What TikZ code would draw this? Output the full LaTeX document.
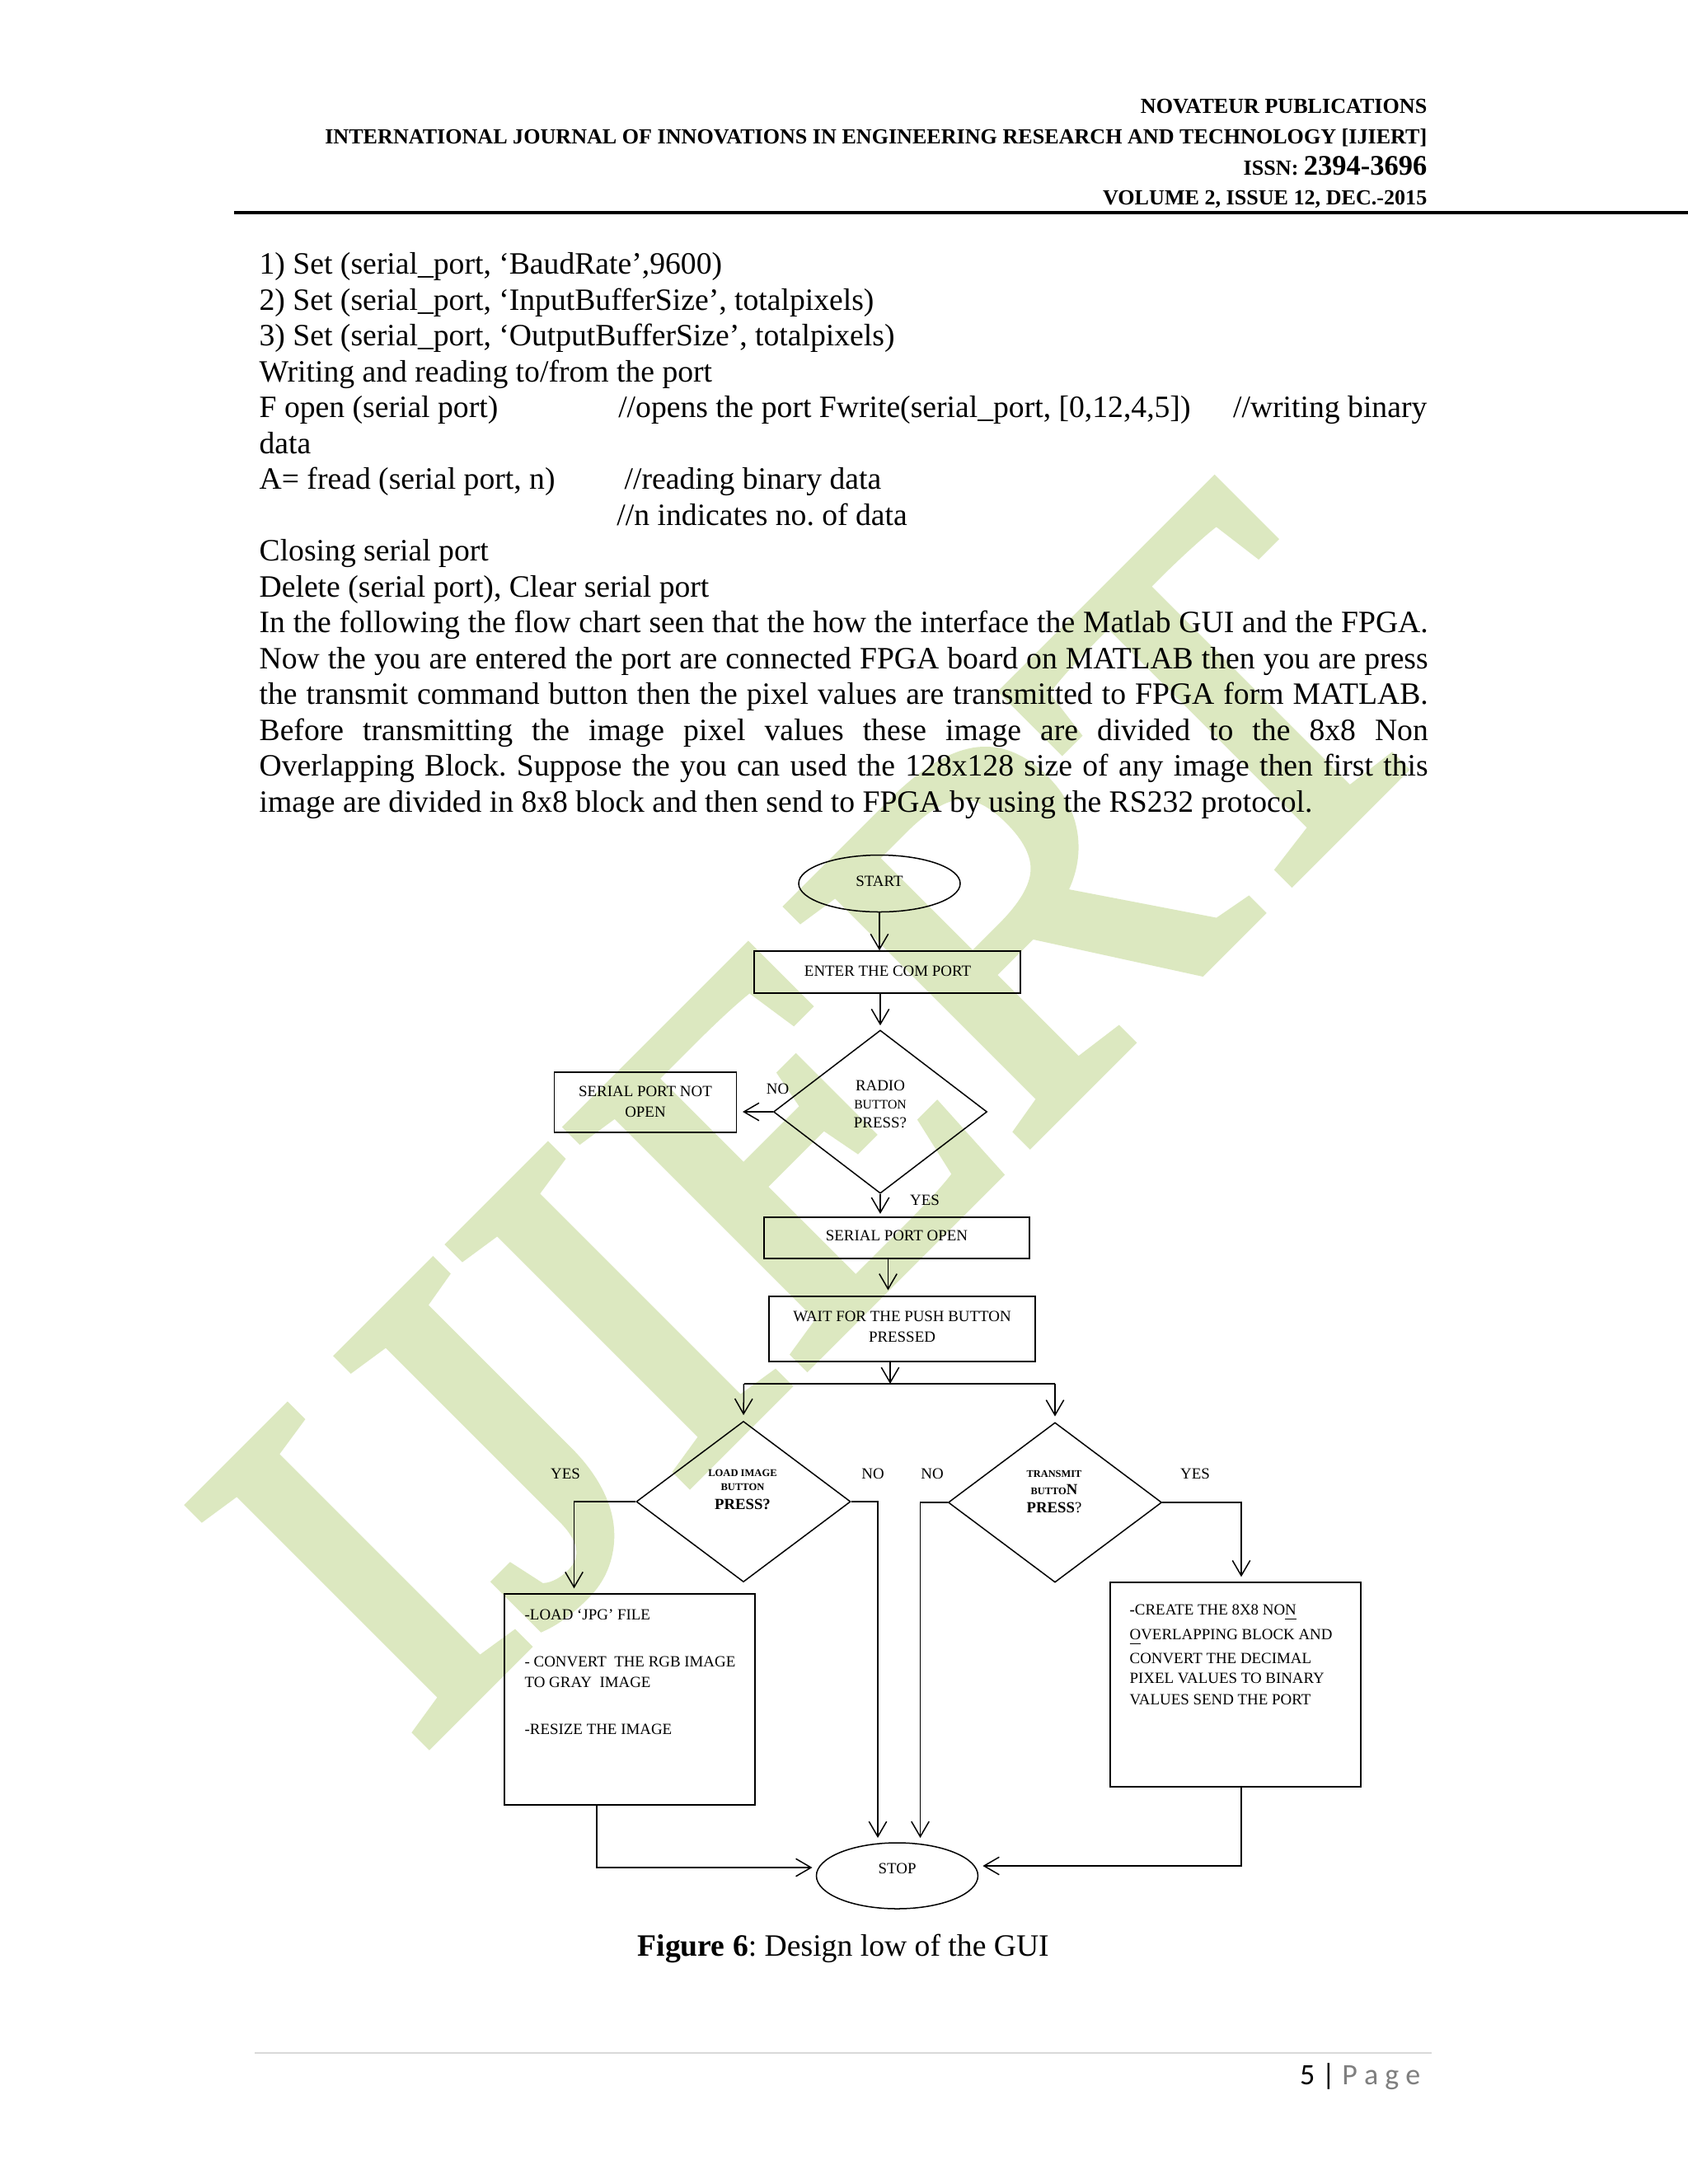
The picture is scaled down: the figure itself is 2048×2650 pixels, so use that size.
\documentclass[tikz,border=0pt]{standalone}
\usepackage{fontspec}
\setmainfont{Liberation Serif}
\newfontfamily\pagefont{Carlito}
\newfontfamily\wmfont[FakeBold=2.5]{Liberation Serif}
\usetikzlibrary{shapes.geometric, arrows.meta, calc}
\newcommand\fsz[2]{\fontsize{#1}{#2}\selectfont}
\newcommand\pxu{0.29883pt}
\definecolor{wmgreen}{RGB}{220,232,192}
\definecolor{pagegray}{RGB}{127,127,127}
\definecolor{rulegray}{RGB}{217,217,217}
\frenchspacing
\begin{document}
\begin{tikzpicture}[x=0.29883pt, y=-0.29883pt,
  body/.style={anchor=base west, inner sep=0, font=\fsz{11.25}{13}},
  hdr/.style={anchor=base east, inner sep=0, font=\fsz{7.8}{9}\bfseries},
  fc/.style={inner sep=0, font=\fsz{5.65}{7.5}},
  fcl/.style={inner sep=0, anchor=west, font=\fsz{5.65}{7.5}},
  box/.style={draw, rectangle, inner sep=0, line width=0.5pt},
  dia/.style={draw, diamond, inner sep=0, line width=0.45pt},
  ell/.style={draw, ellipse, inner sep=0, line width=0.45pt},
  arr/.style={-{Straight Barb[length=5.5pt, width=6.4pt]}, line width=0.45pt},
  ln/.style={line width=0.45pt},
]
\useasboundingbox (0,0) rectangle (2048,2650);
\fill[white] (0,0) rectangle (2048,2650);

% watermark
\node[rotate=45, text=wmgreen, inner sep=0, text depth=0pt, font=\wmfont\fsz{185}{185}] (wm) at (993,1354) {IJIERT};

% header
\node[hdr] (h1) at (1732,137.3) {NOVATEUR PUBLICATIONS};
\node[hdr] (h2) at (1732,174) {INTERNATIONAL JOURNAL OF INNOVATIONS IN ENGINEERING RESEARCH AND TECHNOLOGY [IJIERT]};
\node[hdr] (h3) at (1732,212.3) {ISSN: {\fsz{10.3}{12}2394-3696}};
\node[hdr] (h4) at (1732,248) {VOLUME 2, ISSUE 12, DEC.-2015};
\draw[line width=1.2pt] (284,258) -- (2048,258);

% body text
\node[body] (t1) at (314,332.7) {1) Set (serial\_port, ‘BaudRate’,9600)};
\node[body] (t2) at (314,376.2) {2) Set (serial\_port, ‘InputBufferSize’, totalpixels)};
\node[body] (t3) at (314,419.7) {3) Set (serial\_port, ‘OutputBufferSize’, totalpixels)};
\node[body] (t4) at (314,463.2) {Writing and reading to/from the port};
\node[body] (t5a) at (314,506.7) {F open (serial port)};
\node[body] (t5b) at (749.6,506.7) {//opens the port Fwrite(serial\_port, [0,12,4,5])};
\node[body, anchor=base east] (t5c) at (1732,506.7) {//writing binary};
\node[body] (t6) at (314,550.2) {data};
\node[body] (t7a) at (314,593.7) {A= fread (serial port, n)};
\node[body] (t7b) at (757,593.7) {//reading binary data};
\node[body] (t8) at (747.8,637.2) {//n indicates no. of data};
\node[body] (t9) at (314,680.7) {Closing serial port};
\node[body] (t10) at (314,724.2) {Delete (serial port), Clear serial port};
\node[body] (p1) at (314,767.7) {\makebox[423.74pt][s]{In the following the flow chart seen that the how the interface the Matlab GUI and the FPGA.}};
\node[body] (p2) at (314,811.2) {\makebox[423.74pt][s]{Now the you are entered the port are connected FPGA board on MATLAB then you are press}};
\node[body] (p3) at (314,854.7) {\makebox[423.74pt][s]{the transmit command button then the pixel values are transmitted to FPGA form MATLAB.}};
\node[body] (p4) at (314,898.2) {\makebox[423.74pt][s]{Before transmitting the image pixel values these image are divided to the 8x8 Non}};
\node[body] (p5) at (314,941.7) {\makebox[423.74pt][s]{Overlapping Block. Suppose the you can used the 128x128 size of any image then first this}};
\node[body] (p6) at (314,985.2) {image are divided in 8x8 block and then send to FPGA by using the RS232 protocol.};

% flowchart shapes
\node[ell, minimum width={196*\pxu}, minimum height={69*\pxu}] (start) at (1067,1072) {};
\node[fc] (startt) at (1067,1069) {START};
\node[box, minimum width={323*\pxu}, minimum height={51*\pxu}] (enter) at (1076.5,1179.5) {};
\node[fc] (entert) at (1077,1178) {ENTER THE COM PORT};
\node[dia, minimum width={259*\pxu}, minimum height={198*\pxu}] (radio) at (1068,1349) {};
\node[fc] (radio1) at (1068,1317) {RADIO};
\node[fc, font=\fsz{4.7}{6}] (radio2) at (1068,1340) {BUTTON};
\node[fc] (radio3) at (1068,1362) {PRESS?};
\node[box, minimum width={221*\pxu}, minimum height={73*\pxu}] (notopen) at (783,1337.5) {};
\node[fc] (notopen1) at (783,1324) {SERIAL PORT NOT};
\node[fc] (notopen2) at (783,1349) {OPEN};
\node[fc] (noa) at (943.6,1321) {NO};
\node[fc] (yesa) at (1122,1456) {YES};
\node[box, minimum width={322*\pxu}, minimum height={50*\pxu}] (spopen) at (1088,1502) {};
\node[fc] (spopent) at (1088,1499) {SERIAL PORT OPEN};
\node[box, minimum width={323*\pxu}, minimum height={79*\pxu}] (wait) at (1094.5,1612.5) {};
\node[fc] (wait1) at (1094.5,1597) {WAIT FOR THE PUSH BUTTON};
\node[fc] (wait2) at (1094.5,1622) {PRESSED};

\node[dia, minimum width={260*\pxu}, minimum height={195*\pxu}] (load) at (902,1822) {};
\node[fc, font=\fsz{3.75}{5}\bfseries] (load1) at (901,1787) {LOAD IMAGE};
\node[fc, font=\fsz{3.75}{5}\bfseries] (load2) at (901,1804) {BUTTON};
\node[fc, font=\fsz{5.6}{7}\bfseries] (load3) at (901,1825) {PRESS?};
\node[dia, minimum width={259*\pxu}, minimum height={194*\pxu}] (trans) at (1280,1823) {};
\node[fc, font=\fsz{3.7}{5}\bfseries] (trans1) at (1279,1788) {TRANSMIT};
\node[fc, font=\fsz{3.7}{5}\bfseries] (trans2) at (1279,1807) {BUTTO{\fsz{5.6}{7}N}};
\node[fc, font=\fsz{5.6}{7}] (trans3) at (1279,1829) {\textbf{PRESS}?};
\node[fc] (yesl) at (686,1788) {YES};
\node[fc] (nol) at (1059,1788) {NO};
\node[fc] (nor) at (1131,1788) {NO};
\node[fc] (yesr) at (1450,1788) {YES};

\node[box, minimum width={304*\pxu}, minimum height={256*\pxu}] (lbox) at (764,2062) {};
\node[fcl] (lbox1) at (636,1959) {-LOAD ‘JPG’ FILE};
\node[fcl] (lbox2) at (636,2016.7) {- CONVERT\ \ THE RGB IMAGE};
\node[fcl] (lbox3) at (636,2041.7) {TO GRAY\ \ IMAGE};
\node[fcl] (lbox4) at (636,2098.3) {-RESIZE THE IMAGE};
\node[box, minimum width={304*\pxu}, minimum height={248*\pxu}] (rbox) at (1499,2044) {};
\node[fcl] (rbox1) at (1370,1956.7) {{\bfseries -}CREATE THE 8X8 NO\underline{N}};
\node[fcl] (rbox2) at (1370,1986.7) {\underline{O}VERLAPPING BLOCK AND};
\node[fcl] (rbox3) at (1370,2012.3) {CONVERT THE DECIMAL};
\node[fcl] (rbox4) at (1370,2036.7) {PIXEL VALUES TO BINARY};
\node[fcl] (rbox5) at (1370,2062.3) {VALUES SEND THE PORT};

\node[ell, minimum width={196*\pxu}, minimum height={80*\pxu}] (stop) at (1088.5,2276) {};
\node[fc] (stopt) at (1088.6,2267) {STOP};

% connectors
\draw[arr] (start.south) -- (start.south |- enter.north);
\draw[arr, shorten >=1.5pt] (radio.north |- enter.south) -- (radio.north);
\draw[arr, shorten >=2pt] (radio.west) -- (radio.west -| notopen.east);
\draw[arr, shorten >=1pt] (radio.south) -- (radio.south |- spopen.north);
\coordinate (s5) at (1077.5,1527);
\draw[arr, shorten >=2pt] (s5) -- (s5 |- wait.north);
\coordinate (j) at (1080,1679);
\coordinate (jl) at (902.5,1679);
\coordinate (jr) at (1280,1679);
\draw[arr] (wait.south -| j) -- (j);
\draw[ln] (jl) -- (jr);
\draw[arr, shorten >=2pt] (jl) -- (load.north);
\draw[arr, shorten >=2pt] (jr) -- (trans.north);
\coordinate (la) at (696.5,1934);
\draw[arr, shorten >=2pt] (load.west) -| (la);
\coordinate (na) at (1065,2230);
\draw[arr] (load.east) -| (na);
\coordinate (nb) at (1116.5,2230);
\draw[arr] (trans.west) -| (nb);
\coordinate (ra) at (1506,1920);
\draw[arr, shorten >=2pt] (trans.east) -| (ra);
\coordinate (lb) at (724,2190);
\coordinate (sl) at (985.5,2266);
\draw[arr] (lbox.south -| lb) |- (sl);
\coordinate (rb) at (1506,2168);
\coordinate (sr) at (1192.4,2264);
\draw[arr] (rbox.south -| rb) |- (sr);

% caption
\node[anchor=base west, inner sep=0, font=\fsz{11.25}{13}] (cap) at (773,2373) {\textbf{Figure 6}: Design low of the GUI};

% footer
\draw[rulegray, line width=0.6pt] (309,2491) -- (1737,2491);
\node[anchor=base east, inner sep=0, font=\pagefont\fsz{10.75}{12}] (pg) at (1724,2529.5) {5 | \textcolor{pagegray}{P a g e}};
\end{tikzpicture}
\end{document}
